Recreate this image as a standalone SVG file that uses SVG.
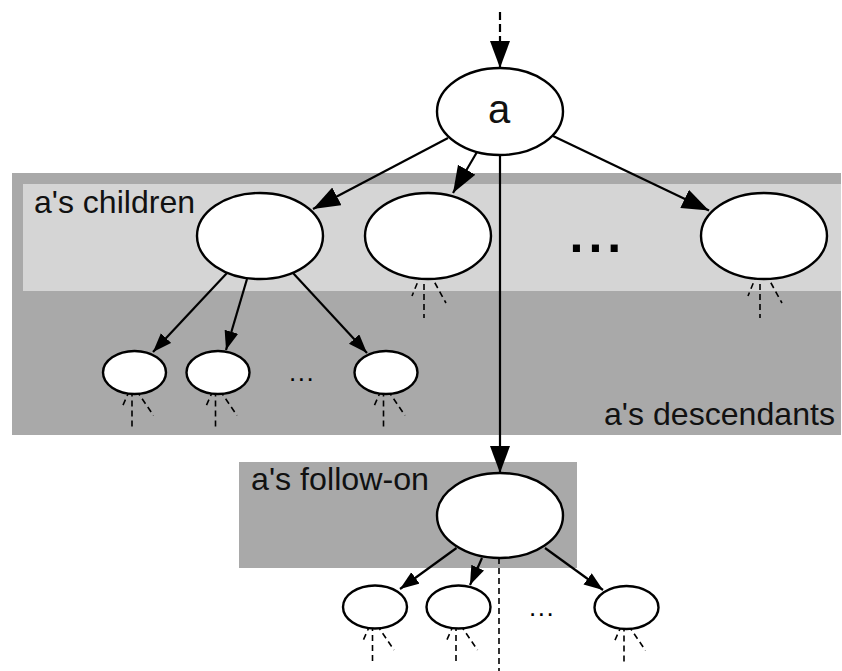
<svg xmlns="http://www.w3.org/2000/svg" xmlns:xlink="http://www.w3.org/1999/xlink" width="842" height="671" viewBox="0 0 842 671">
<style>
  .dark { fill: #a9a9a9; }
  .light { fill: #d5d5d5; }
  .lbl { font-family: "Liberation Sans", Arial, sans-serif; font-size: 32px; fill: #111; }
  .node { fill: #ffffff; stroke: #000; stroke-width: 2.4; }
  .edge { stroke: #000; stroke-width: 2.2; fill: none; }
  .fan { stroke: #000; stroke-width: 1.6; fill: none; stroke-dasharray: 6 4; }
  .dots { font-family: "Liberation Sans", Arial, sans-serif; fill: #000; }
</style>
<defs>
  <marker id="ah" markerUnits="userSpaceOnUse" markerWidth="29" markerHeight="21" refX="27" refY="10" orient="auto">
    <path d="M0,0 L27,10 L0,20 z" fill="#000"/>
  </marker>
  <marker id="ahs" markerUnits="userSpaceOnUse" markerWidth="20" markerHeight="15" refX="19" refY="7" orient="auto">
    <path d="M0,0 L19,7 L0,14 z" fill="#000"/>
  </marker>
  <g id="fanBig">
    <path class="fan" d="M-4,38 V82 M-7,38 L-16,60 M2,38 L18,67"/>
  </g>
  <g id="fanSmall">
    <path class="fan" d="M-2.5,18 V58 M-5,18 L-13,36 M2,18 L19,43"/>
  </g>
</defs>

<g id="regions">
  <rect class="dark" x="12" y="173" width="829" height="262"/>
  <rect class="light" x="23" y="184" width="818" height="107"/>
  <rect class="dark" x="239" y="462" width="338" height="106"/>
  <text class="lbl" x="34" y="213" textLength="161" lengthAdjust="spacingAndGlyphs">a's children</text>
  <text class="lbl" x="604" y="425" textLength="231" lengthAdjust="spacingAndGlyphs">a's descendants</text>
  <text class="lbl" x="251" y="490" textLength="178" lengthAdjust="spacingAndGlyphs">a's follow-on</text>
  <text class="dots" x="569.5" y="252" font-size="50" font-weight="bold" letter-spacing="5">...</text>
  <text class="dots" x="289" y="381" font-size="26" letter-spacing="1.5">...</text>
  <text class="dots" x="529" y="616" font-size="26" letter-spacing="1.5">...</text>
</g>

<g id="connectors">
  <line class="edge" x1="500" y1="12" x2="500" y2="68" stroke-dasharray="8 4" marker-end="url(#ah)"/>
  <line class="edge" x1="448" y1="138" x2="313" y2="209" marker-end="url(#ah)"/>
  <line class="edge" x1="477" y1="152" x2="453" y2="193" marker-end="url(#ah)"/>
  <line class="edge" x1="553" y1="136" x2="709" y2="210.5" marker-end="url(#ah)"/>
  <line class="edge" x1="500" y1="154" x2="500" y2="473" marker-end="url(#ah)"/>
  <line class="edge" x1="227" y1="273" x2="153" y2="352" marker-end="url(#ahs)"/>
  <line class="edge" x1="247" y1="279" x2="226" y2="350" marker-end="url(#ahs)"/>
  <line class="edge" x1="293" y1="273" x2="367" y2="353" marker-end="url(#ahs)"/>
  <line class="edge" x1="456.5" y1="548" x2="400" y2="589" marker-end="url(#ahs)"/>
  <line class="edge" x1="482" y1="558" x2="470" y2="585" marker-end="url(#ahs)"/>
  <line class="edge" x1="545" y1="548" x2="603" y2="590" marker-end="url(#ahs)"/>
  <line class="fan" x1="499" y1="558" x2="499" y2="671"/>
</g>

<g id="node-a">
  <ellipse class="node" cx="500" cy="111.5" rx="63" ry="43.5"/>
  <text x="499" y="123" font-family="Liberation Sans, Arial, sans-serif" font-size="40" text-anchor="middle" fill="#111">a</text>
</g>
<g id="child-1">
  <ellipse class="node" cx="260" cy="236" rx="63" ry="43"/>
</g>
<g id="child-2">
  <use xlink:href="#fanBig" x="428" y="236"/>
  <ellipse class="node" cx="428" cy="236" rx="63" ry="43"/>
</g>
<g id="child-n">
  <use xlink:href="#fanBig" x="764" y="236"/>
  <ellipse class="node" cx="764" cy="236" rx="63" ry="43"/>
</g>
<g id="grandchild-1">
  <use xlink:href="#fanSmall" x="134.5" y="372.5"/>
  <ellipse class="node" cx="134.5" cy="372.5" rx="31.5" ry="21.5"/>
</g>
<g id="grandchild-2">
  <use xlink:href="#fanSmall" x="218" y="372.5"/>
  <ellipse class="node" cx="218" cy="372.5" rx="31.5" ry="21.5"/>
</g>
<g id="grandchild-n">
  <use xlink:href="#fanSmall" x="386" y="372.5"/>
  <ellipse class="node" cx="386" cy="372.5" rx="31.5" ry="21.5"/>
</g>
<g id="follow-on">
  <ellipse class="node" cx="500" cy="515.5" rx="63" ry="42.5"/>
</g>
<g id="follow-on-child-1">
  <use xlink:href="#fanSmall" x="375" y="607"/>
  <ellipse class="node" cx="375" cy="607" rx="32" ry="21.5"/>
</g>
<g id="follow-on-child-2">
  <use xlink:href="#fanSmall" x="458.5" y="607"/>
  <ellipse class="node" cx="458.5" cy="607" rx="32" ry="21.5"/>
</g>
<g id="follow-on-child-n">
  <use xlink:href="#fanSmall" x="626.5" y="607.5"/>
  <ellipse class="node" cx="626.5" cy="607.5" rx="32" ry="21.5"/>
</g>
</svg>
